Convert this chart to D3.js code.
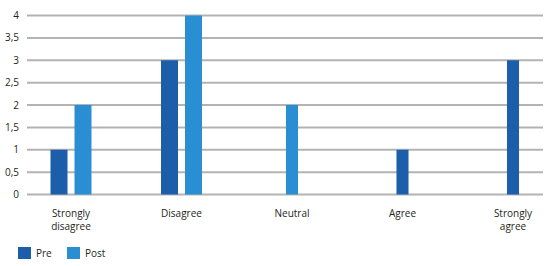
<!DOCTYPE html>
<html lang="en">
<head>
  <meta charset="UTF-8">
  <title>Pre / Post responses</title>
  <script src="https://d3js.org/d3.v7.min.js"></script>
  <style>
    body { margin: 0; background: #fff; }
    .tick-label, .cat-label, .legend text {
      font-family: "Open Sans", Arial, sans-serif;
      font-size: 10px;
      fill: #231f20;
    }
    .grid line { stroke: #b3b3b3; stroke-width: 2px; }
  </style>
</head>
<body>
  <svg id="chart" width="555" height="266"></svg>

  <script>
    // data
    const categories = [["Strongly", "disagree"], ["Disagree"], ["Neutral"], ["Agree"], ["Strongly", "agree"]];
    const seriesNames = ["Pre", "Post"];
    const preValues = [1, 3, 0, 1, 3];
    const postValues = [2, 4, 2, 0, 0];
    const yTicks = [0, 0.5, 1, 1.5, 2, 2.5, 3, 3.5, 4];

    const colors = { Pre: "#1c5ea9", Post: "#2a8fd2" };

    const svg = d3.select("#chart");
    const plotLeft = 27, plotRight = 543;

    const y = d3.scaleLinear().domain([0, 4]).range([194.5, 15.5]);

    const x = d3.scalePoint()
      .domain(d3.range(categories.length))
      .range([71, 513]);

    // gridlines
    svg.append("g").attr("class", "grid")
      .selectAll("line")
      .data(yTicks)
      .join("line")
      .attr("x1", plotLeft)
      .attr("x2", plotRight)
      .attr("y1", d => y(d))
      .attr("y2", d => y(d));

    // y tick labels
    svg.append("g")
      .selectAll("text")
      .data(yTicks)
      .join("text")
      .attr("class", "tick-label")
      .attr("x", 19)
      .attr("y", d => y(d) + 3.5)
      .attr("text-anchor", "end")
      .text(d => d3.format("")(d).replace(".", ","));

    // bars - only non-zero values, centred on the category
    const barW = 17, gap = 7;
    categories.forEach((c, i) => {
      const vals = [
        { key: "Pre", v: preValues[i] },
        { key: "Post", v: postValues[i] }
      ].filter(d => d.v > 0);
      const total = vals.length * barW + (vals.length - 1) * gap;
      const inner = d3.scaleBand()
        .domain(vals.map(d => d.key))
        .range([x(i) - total / 2, x(i) + total / 2])
        .paddingInner(gap / (barW + gap));
      svg.append("g")
        .selectAll("rect")
        .data(vals)
        .join("rect")
        .attr("x", d => inner(d.key))
        .attr("width", inner.bandwidth())
        .attr("y", d => y(d.v))
        .attr("height", d => y(0) - y(d.v))
        .attr("fill", d => colors[d.key]);
    });

    // category labels, one text per line
    categories.forEach((lines, i) => {
      svg.append("g")
        .selectAll("text")
        .data(lines)
        .join("text")
        .attr("class", "cat-label")
        .attr("text-anchor", "middle")
        .attr("x", x(i))
        .attr("y", (t, j) => 217 + j * 12.5)
        .text(t => t);
    });

    // legend
    const legend = svg.append("g").attr("class", "legend")
      .selectAll("g")
      .data(seriesNames)
      .join("g")
      .attr("transform", (d, i) => `translate(${18 + i * 49}, 247)`);

    legend.append("rect")
      .attr("width", 13)
      .attr("height", 12)
      .attr("fill", d => colors[d]);

    legend.append("text")
      .attr("x", 18)
      .attr("y", 10)
      .text(d => d);
  </script>
</body>
</html>
